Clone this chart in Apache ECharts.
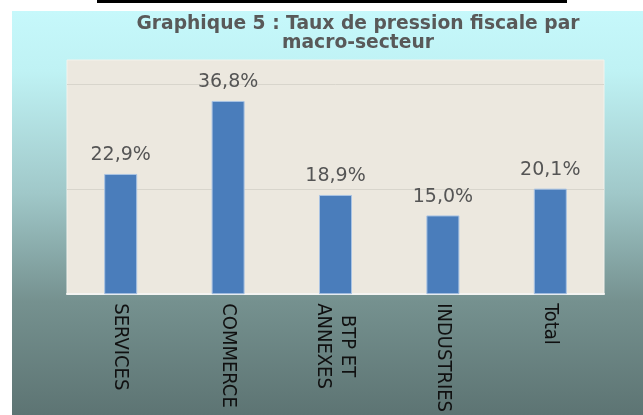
<!DOCTYPE html>
<html>
<head>
<meta charset="utf-8">
<script src="https://cdn.jsdelivr.net/npm/echarts@6/dist/echarts.min.js"></script>
<style>
  html, body { margin: 0; padding: 0; background: #fff; }
  #pression { width: 643px; height: 415px; }
</style>
</head>
<body>
<div id="pression"></div>
<script>
// macro-secteurs et taux de pression fiscale (%)
const secteurs = ['SERVICES', 'COMMERCE', 'BTP ET\nANNEXES', 'INDUSTRIES', 'Total'];
const taux = [22.9, 36.8, 18.9, 15.0, 20.1];
const yTicks = [0, 20, 40];

const chartDom = document.getElementById('pression');
let myChart = echarts.init(chartDom);
let option;
option = {
  animation: false,
  graphic: [
    {
      type: 'rect',
      z: -10,
      shape: { x: 12, y: 11, width: 631, height: 404 },
      style: {
        fill: new echarts.graphic.LinearGradient(0, 0, 0, 1, [
          { offset: 0, color: '#c6f8fb' },
          { offset: 0.15, color: '#bff2f4' },
          { offset: 0.45, color: '#a0c8c9' },
          { offset: 0.72, color: '#75918f' },
          { offset: 1, color: '#5d7473' }
        ])
      }
    },
    {
      type: 'rect',
      z: -9,
      shape: { x: 97, y: 0, width: 470, height: 3 },
      style: { fill: '#000' }
    }
  ],
  title: {
    text: 'Graphique 5 : Taux de pression fiscale par\nmacro-secteur',
    left: 358,
    top: 15,
    padding: 0,
    textAlign: 'center',
    textStyle: {
      color: '#595959',
      fontFamily: 'DejaVu Sans',
      fontWeight: 'bold',
      fontSize: 18.7,
      lineHeight: 19
    }
  },
  grid: {
    left: 67,
    right: 39,
    top: 60,
    bottom: 115,
    show: true,
    backgroundColor: '#ece8df',
    borderColor: '#f3f2ec',
    borderWidth: 1
  },
  xAxis: {
    type: 'category',
    data: secteurs,
    axisLine: { lineStyle: { color: '#f4f4f2', width: 2 } },
    axisTick: { inside: true, length: 4, lineStyle: { color: '#f8f8f6' } },
    axisLabel: {
      rotate: -90,
      margin: 9,
      interval: 0,
      formatter: (v) => v.split('\n').map(s => '{c|' + s + '}').join('\n'),
      rich: {
        c: {
          align: 'center',
          color: '#101010',
          fontFamily: '"Liberation Sans Narrow", "DejaVu Sans Condensed", sans-serif',
          fontSize: 20,
          lineHeight: 24
        }
      }
    }
  },
  yAxis: {
    type: 'value',
    min: yTicks[0],
    max: 44.6,
    interval: yTicks[1] - yTicks[0],
    axisLabel: { show: false },
    axisLine: { show: false },
    axisTick: { show: false },
    splitLine: {
      show: true,
      showMinLine: false,
      showMaxLine: false,
      lineStyle: { color: '#d8d5cc', width: 1 }
    }
  },
  series: [
    {
      name: 'Taux',
      type: 'bar',
      data: taux,
      barWidth: 33,
      itemStyle: { color: '#4a7dbb', borderColor: '#a9c3e3', borderWidth: 1 },
      label: {
        show: true,
        position: 'top',
        distance: 9,
        formatter: (p) => p.value.toFixed(1).replace('.', ',') + '%',
        color: '#555555',
        fontFamily: 'DejaVu Sans',
        fontSize: 19
      }
    }
  ]
};
option && myChart.setOption(option);
</script>
</body>
</html>
